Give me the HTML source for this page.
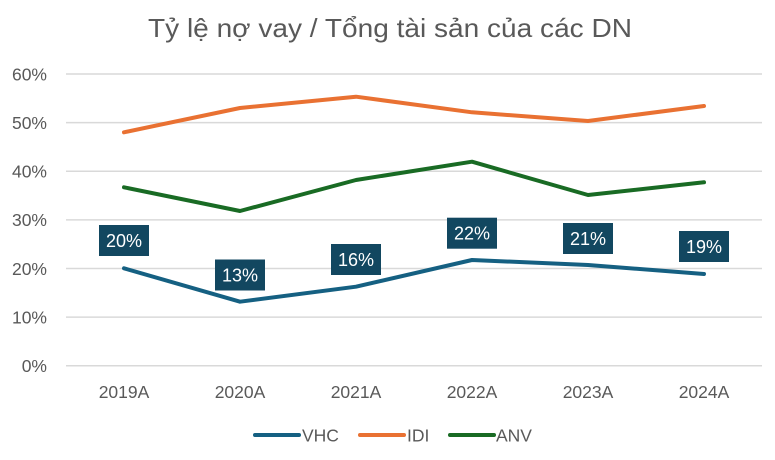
<!DOCTYPE html>
<html><head><meta charset="utf-8"><style>
html,body{margin:0;padding:0;background:#fff;}
svg{display:block;}
text{font-family:"Liberation Sans",Arial,sans-serif;}
</style></head><body>
<svg width="775" height="460" viewBox="0 0 775 460" xmlns="http://www.w3.org/2000/svg">
<rect width="775" height="460" fill="#fff"/>
<text x="390" y="37" text-anchor="middle" font-size="26" fill="#595959" textLength="484" lengthAdjust="spacingAndGlyphs">Tỷ lệ nợ vay / Tổng tài sản của các DN</text>
<g stroke="#d9d9d9" stroke-width="1.5">
<line x1="66" y1="74" x2="762" y2="74"/>
<line x1="66" y1="122.6" x2="762" y2="122.6"/>
<line x1="66" y1="171.3" x2="762" y2="171.3"/>
<line x1="66" y1="219.9" x2="762" y2="219.9"/>
<line x1="66" y1="268.5" x2="762" y2="268.5"/>
<line x1="66" y1="317.1" x2="762" y2="317.1"/>
<line x1="66" y1="365.7" x2="762" y2="365.7"/>
</g>
<g font-size="17.5" fill="#595959" text-anchor="end">
<text x="47" y="80.3">60%</text>
<text x="47" y="128.9">50%</text>
<text x="47" y="177.6">40%</text>
<text x="47" y="226.2">30%</text>
<text x="47" y="274.8">20%</text>
<text x="47" y="323.4">10%</text>
<text x="47" y="372">0%</text>
</g>
<g font-size="17.5" fill="#595959" text-anchor="middle">
<text x="124" y="398">2019A</text>
<text x="240" y="398">2020A</text>
<text x="356" y="398">2021A</text>
<text x="472" y="398">2022A</text>
<text x="588" y="398">2023A</text>
<text x="704" y="398">2024A</text>
</g>
<g fill="none" stroke-width="4" stroke-linejoin="round" stroke-linecap="round">
<polyline stroke="#E97132" points="124,132.3 240,108 356,96.7 472,112.3 588,121 704,106"/>
<polyline stroke="#196B24" points="124,187.3 240,211 356,180 472,161.7 588,195 704,182.3"/>
<polyline stroke="#156082" points="124,268.3 240,301.7 356,286.7 472,260 588,265 704,274"/>
</g>
<g fill="#124760">
<rect x="99" y="225" width="50" height="31"/>
<rect x="215" y="259.5" width="50" height="31"/>
<rect x="331" y="244" width="50" height="31"/>
<rect x="447" y="217.7" width="50" height="31"/>
<rect x="563" y="223" width="50" height="31"/>
<rect x="679" y="231" width="50" height="31"/>
</g>
<g font-size="18" fill="#fff" text-anchor="middle">
<text x="124" y="246.9">20%</text>
<text x="240" y="281.4">13%</text>
<text x="356" y="265.9">16%</text>
<text x="472" y="239.6">22%</text>
<text x="588" y="244.9">21%</text>
<text x="704" y="252.9">19%</text>
</g>
<g stroke-width="4" stroke-linecap="round">
<line x1="255" y1="435" x2="299" y2="435" stroke="#156082"/>
<line x1="360" y1="435" x2="404" y2="435" stroke="#E97132"/>
<line x1="450" y1="435" x2="494" y2="435" stroke="#196B24"/>
</g>
<g font-size="17.5" fill="#595959">
<text x="302" y="441.3">VHC</text>
<text x="407" y="441.3">IDI</text>
<text x="496" y="441.3">ANV</text>
</g>
</svg>
</body></html>
